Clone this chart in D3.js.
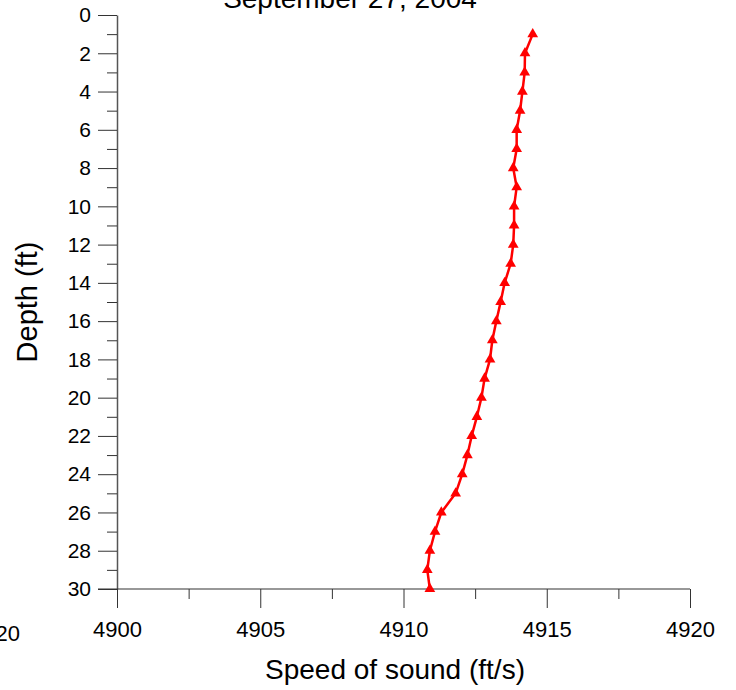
<!DOCTYPE html>
<html>
<head>
<meta charset="utf-8">
<script src="https://cdn.jsdelivr.net/npm/d3@7"></script>
<style>
  body { margin: 0; background: #fff; }
  svg { display: block; font-family: "Liberation Sans", Arial, sans-serif; }
</style>
</head>
<body>
<svg id="chart" width="736" height="690"></svg>
<script>
const titleText = "September 27, 2004";
const xTitle = "Speed of sound (ft/s)";
const yTitle = "Depth (ft)";
const depths = [1,2,3,4,5,6,7,8,9,10,11,12,13,14,15,16,17,18,19,20,21,22,23,24,25,26,27,28,29,30];
const speeds = [4914.51,4914.24,4914.23,4914.15,4914.07,4913.95,4913.95,4913.83,4913.95,4913.86,
                4913.86,4913.83,4913.74,4913.53,4913.39,4913.24,4913.10,4913.02,4912.83,4912.72,
                4912.56,4912.38,4912.23,4912.05,4911.82,4911.32,4911.10,4910.92,4910.83,4910.92];
const xMajorTicks = [4900,4905,4910,4915,4920];
const xMinorTicks = [4902.5,4907.5,4912.5,4917.5];
const yMajorTicks = [0,2,4,6,8,10,12,14,16,18,20,22,24,26,28,30];
const yMinorTicks = [1,3,5,7,9,11,13,15,17,19,21,23,25,27,29];
const strayLabel = "20";

(function () {
const svg = d3.select("#chart");
const pL = 117, pR = 690, pT = 15, pB = 589;
const x = d3.scaleLinear().domain([4900, 4920]).range([pL, pR]);
const y = d3.scaleLinear().domain([0, 30]).range([pT, pB]);

// y axis
const yAxis = d3.axisLeft(y).tickValues(yMajorTicks).tickSize(19).tickPadding(7).tickSizeOuter(0);
const gy = svg.append("g").attr("transform", `translate(${pL},0)`).call(yAxis);
gy.select(".domain").attr("stroke", "#555").attr("stroke-width", 1.5);
gy.selectAll(".tick line").attr("stroke", "#333");
gy.selectAll(".tick text").attr("font-size", 21).attr("fill", "#000");
svg.append("g").attr("transform", `translate(${pL},0)`)
  .call(d3.axisLeft(y).tickValues(yMinorTicks).tickSize(10).tickFormat("").tickSizeOuter(0))
  .call(g => g.select(".domain").remove())
  .selectAll(".tick line").attr("stroke", "#333");

// x axis
const xAxis = d3.axisBottom(x).tickValues(xMajorTicks).tickSize(19).tickPadding(13).tickFormat(d3.format("d")).tickSizeOuter(0);
const gx = svg.append("g").attr("transform", `translate(0,${pB})`).call(xAxis);
gx.select(".domain").attr("stroke", "#333").attr("stroke-width", 1.2).attr("d", `M${pL - 19},0H${pR}`);
gx.selectAll(".tick line").attr("stroke", "#333");
gx.selectAll(".tick text").attr("font-size", 22).attr("fill", "#000");
svg.append("g").attr("transform", `translate(0,${pB})`)
  .call(d3.axisBottom(x).tickValues(xMinorTicks).tickSize(10).tickFormat("").tickSizeOuter(0))
  .call(g => g.select(".domain").remove())
  .selectAll(".tick line").attr("stroke", "#333");

// line
const line = d3.line().x((d, i) => x(speeds[i])).y(d => y(d));
svg.append("path").datum(depths).attr("d", line)
  .attr("fill", "none").attr("stroke", "#ff0000").attr("stroke-width", 2.5).attr("stroke-linejoin", "round");

// markers
const tri = d3.symbol().type(d3.symbolTriangle).size(50);
svg.selectAll(".mk").data(depths).enter().append("path")
  .attr("class", "mk")
  .attr("d", tri)
  .attr("transform", (d, i) => `translate(${x(speeds[i])},${y(d)})`)
  .attr("fill", "#ff0000");

// titles
svg.append("text").attr("x", 350).attr("y", 8).attr("text-anchor", "middle")
  .attr("font-size", 28).text(titleText);
svg.append("text").attr("x", 395).attr("y", 679).attr("text-anchor", "middle")
  .attr("font-size", 28).text(xTitle);
svg.append("text").attr("transform", "translate(37,302) rotate(-90)").attr("text-anchor", "middle")
  .attr("font-size", 29).text(yTitle);
svg.append("text").attr("x", 20).attr("y", 641).attr("text-anchor", "end")
  .attr("font-size", 22).text(strayLabel);
})();
</script>
</body>
</html>
